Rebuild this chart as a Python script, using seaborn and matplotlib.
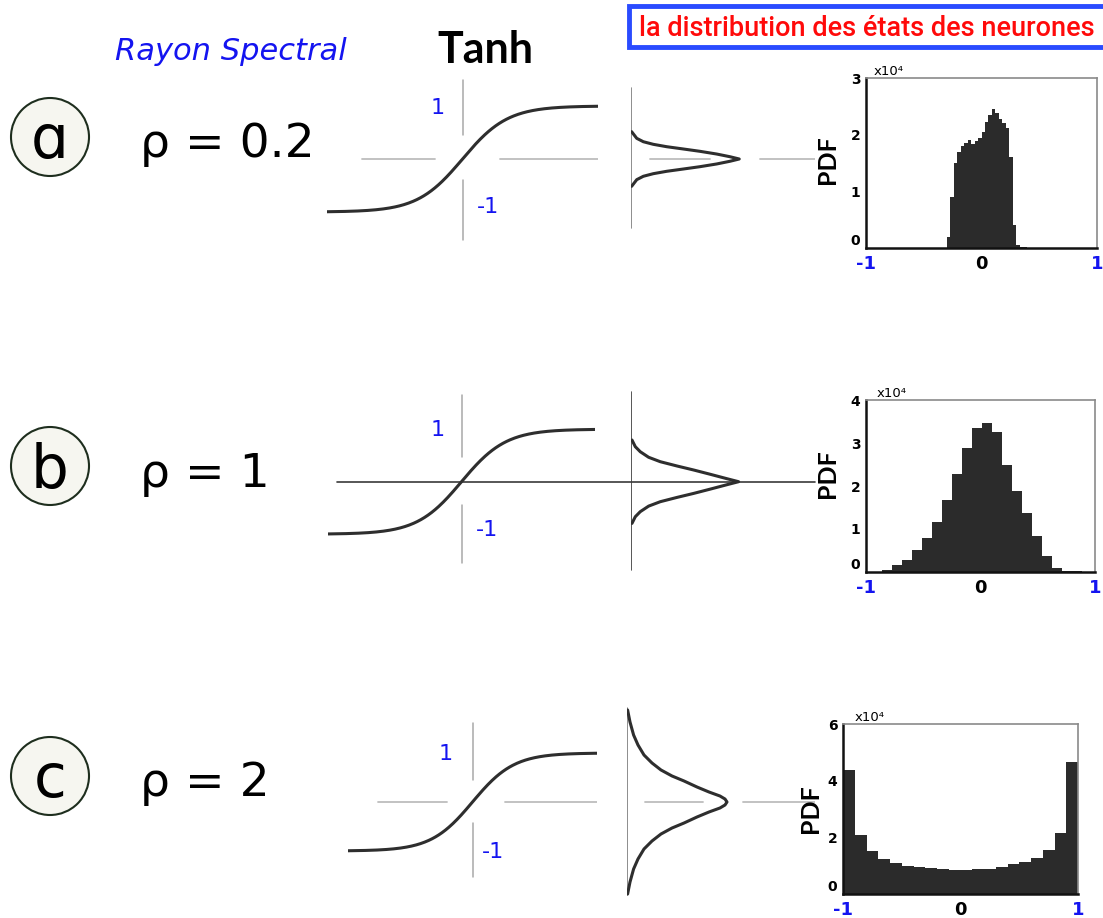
import numpy as np
import pandas as pd
import matplotlib
matplotlib.use('Agg')
import matplotlib.pyplot as plt
import matplotlib.transforms as mtransforms
import seaborn as sns
from matplotlib.patches import Circle, Rectangle

W, H = 1103, 918

# ---- data ----
row_letters = ['ɑ', 'b', 'c']
rho_labels = ['ρ = 0.2', 'ρ = 1', 'ρ = 2']

# tanh input range shown in each panel
tanh_u = np.linspace(-3, 3, 300)

# half profiles of the input distributions (state offset, density rel. to peak)
bell_a_state = [0.515, 0.39, 0.326, 0.277, 0.232, 0.189, 0.145, 0.094, 0.043, 0.0]
bell_a_dens = [0.006, 0.053, 0.114, 0.206, 0.33, 0.483, 0.637, 0.791, 0.914, 1.0]
bell_b_state = [0.794, 0.667, 0.571, 0.465, 0.381, 0.299, 0.223, 0.141, 0.057, 0.0]
bell_b_dens = [0.009, 0.04, 0.086, 0.164, 0.272, 0.428, 0.582, 0.737, 0.892, 1.0]
bell_c_state = [1.878, 1.633, 1.367, 1.163, 0.959, 0.796, 0.653, 0.531, 0.429,
                0.306, 0.204, 0.122, 0.061, 0.0]
bell_c_dens = [0.006, 0.03, 0.066, 0.11, 0.17, 0.25, 0.34, 0.45, 0.57,
               0.70, 0.82, 0.93, 0.98, 1.0]

# histograms of neuron states (x1e4)
hist_a_edges = np.linspace(-0.30, 0.39, 24)
hist_a_heights = [0.2, 0.9, 1.5, 1.7, 1.8, 1.85, 1.9, 1.83, 1.88, 1.95, 2.05, 2.22,
                  2.35, 2.45, 2.38, 2.28, 2.2, 2.12, 1.6, 0.4, 0.05, 0.02, 0.01]
hist_b_edges = np.linspace(-0.9476, 0.9708, 23)
hist_b_heights = [0.01, 0.05, 0.155, 0.27, 0.52, 0.8, 1.17, 1.67, 2.27, 2.89, 3.36,
                  3.46, 3.26, 2.49, 1.88, 1.38, 0.83, 0.37, 0.09, 0.03, 0.02, 0.01]
hist_c_edges = np.linspace(-1, 1, 21)
hist_c_heights = [4.38, 2.07, 1.5, 1.23, 1.09, 1.0, 0.95, 0.9, 0.87, 0.86,
                  0.86, 0.87, 0.9, 0.95, 1.05, 1.12, 1.27, 1.54, 2.15, 4.67]
hist_ymax = [3, 4, 6]
hist_yticks = [[0, 1, 2, 3], [0, 1, 2, 3, 4], [0, 2, 4, 6]]

# ---- style ----
sns.set_style('white')
plt.rcParams['font.family'] = ['DejaVu Sans']

BLUE = '#1414f0'
CURVE = '#2e2e2e'
GUIDE = '#bdbdbd'

fig = plt.figure(figsize=(W / 100, H / 100), dpi=100)

bg = fig.add_axes([0, 0, 1, 1])
bg.set_xlim(0, W)
bg.set_ylim(H, 0)
bg.axis('off')


def box(l, t, r, b):
    return [l / W, 1 - b / H, (r - l) / W, (b - t) / H]


# headers
bg.text(231, 52, 'Rayon Spectral', color=BLUE, fontsize=22, style='italic',
        ha='center', va='center')
bg.text(485, 50, 'Tanh', color='black', fontsize=31, family=['Lato', 'DejaVu Sans'],
        fontweight='bold', ha='center', va='center')
bg.add_patch(Rectangle((629, 6), 480, 41, facecolor='white', edgecolor='#2a4bff', lw=3.5))
bg.text(867, 28, 'la distribution des états des neurones', color='#ff0a0a',
        fontsize=19.5, family=['Roboto', 'DejaVu Sans'], fontweight='medium',
        ha='center', va='center')

# row letters and rho labels
circle_y = [137, 466, 776]
base_y = [158, 488, 797]
for letter, rho, cyc, by in zip(row_letters, rho_labels, circle_y, base_y):
    bg.add_patch(Circle((50, cyc), 39, facecolor='#f6f6f0', edgecolor='#1e2e1e', lw=1.5))
    bg.text(50, by, letter, fontsize=43, ha='center', va='baseline', color='black')
    bg.text(140, by - 1, rho, fontsize=34, ha='left', va='baseline', color='black')

# ---- tanh panels ----
tanh_boxes = [box(327, 53, 598, 265), box(328, 376.7, 595, 586.7), box(348, 704, 597, 900)]
h_guides = [[(-2.22, -0.61), (0.83, 3.0)], None, [(-2.28, -0.61), (0.78, 3.0)]]
v_guides = [[(0.45, 1.49), (-1.53, -0.40)], [(0.48, 1.65), (-1.55, -0.44)],
            [(0.45, 1.61), (-1.53, -0.43)]]
one_pos = [(-0.56, 0.96), (-0.53, 0.98), (-0.64, 0.98)]
minus_pos = [(0.56, -0.91), (0.57, -0.92), (0.50, -1.02)]

for i, rect in enumerate(tanh_boxes):
    ax = fig.add_axes(rect)
    ax.set_xlim(-3, 3)
    ax.set_ylim(-2, 2)
    ax.axis('off')
    if h_guides[i] is None:
        ax.plot([-2.8, 7.95], [0, 0], color='#3a3a3a', lw=1.2, clip_on=False)
    else:
        for x0, x1 in h_guides[i]:
            ax.plot([x0, x1], [0, 0], color=GUIDE, lw=1.3)
    for y0, y1 in v_guides[i]:
        ax.plot([0, 0], [y0, y1], color='#a8a8a8', lw=1.1)
    sns.lineplot(x=tanh_u, y=np.tanh(tanh_u), ax=ax, color=CURVE, lw=2.2)
    ax.text(*one_pos[i], '1', color=BLUE, fontsize=16, ha='center', va='center')
    ax.text(*minus_pos[i], '-1', color=BLUE, fontsize=16, ha='center', va='center')

# ---- input distribution panels ----
dist_boxes = [box(631, 53, 815, 265), box(631, 376.7, 815, 586.7), box(627, 704, 815, 900)]
dist_xmax = [1.70, 1.71, 1.88]
bells = [(bell_a_state, bell_a_dens), (bell_b_state, bell_b_dens), (bell_c_state, bell_c_dens)]
dist_vline = [(-1.30, 1.34), (-1.68, 1.71), (-1.90, 1.92)]
dist_guides = [[(0.175, 0.73), (1.19, 1.70)], None, [(0.18, 0.76), (1.16, 1.88)]]

for i, rect in enumerate(dist_boxes):
    ax = fig.add_axes(rect)
    ax.set_xlim(0, dist_xmax[i])
    ax.set_ylim(-2, 2)
    ax.axis('off')
    if dist_guides[i] is not None:
        for x0, x1 in dist_guides[i]:
            ax.plot([x0, x1], [0, 0], color=GUIDE, lw=1.3)
    ax.plot([0, 0], dist_vline[i], color='#7a7a7a' if i != 1 else '#3a3a3a', lw=1.2)
    st, de = bells[i]
    ys = list(st) + [-s for s in reversed(st)]
    xs = list(de) + list(reversed(de))
    ax.plot(xs, ys, color=CURVE, lw=2.2, solid_joinstyle='round')

# ---- state histograms ----
hist_boxes = [box(866, 78, 1097, 248), box(866, 400, 1095, 572), box(843, 724, 1078, 894)]
hists = [(hist_a_edges, hist_a_heights), (hist_b_edges, hist_b_heights),
         (hist_c_edges, hist_c_heights)]
pdf_pos = [(-0.165, 0.52), (-0.166, 0.57), (-0.14, 0.5)]
x10_pos = [0.035, 0.045, 0.05]

for i, rect in enumerate(hist_boxes):
    ax = fig.add_axes(rect)
    edges, heights = hists[i]
    edges = np.asarray(edges)
    df = pd.DataFrame({'state': (edges[:-1] + edges[1:]) / 2, 'count': heights})
    sns.histplot(data=df, x='state', weights='count', bins=edges.tolist(), element='step',
                 fill=True, color='#2b2b2b', alpha=1, linewidth=0, ax=ax)
    ax.set_xlim(-1, 1)
    ax.set_ylim(0, hist_ymax[i])
    ax.set_xlabel('')
    ax.set_ylabel('')
    ax.set_yticks(hist_yticks[i])
    ax.set_yticklabels([str(t) for t in hist_yticks[i]], fontsize=10, fontweight='bold',
                       color='black')
    ax.get_yticklabels()[0].set_verticalalignment('bottom')
    ax.set_xticks([-1, 0, 1])
    ax.set_xticklabels(['-1', '0', '1'], fontsize=13, fontweight='bold')
    for lbl, col, dx in zip(ax.get_xticklabels(), [BLUE, 'black', BLUE], [-8, 4, -2]):
        lbl.set_color(col)
        lbl.set_transform(lbl.get_transform() +
                          mtransforms.ScaledTranslation(dx / 100, 0, fig.dpi_scale_trans))
    ax.tick_params(axis='x', length=0, pad=5)
    ax.tick_params(axis='y', length=0, pad=4)
    for side in ['left', 'bottom']:
        ax.spines[side].set_color('#111111')
        ax.spines[side].set_linewidth(1.8)
    for side in ['top', 'right']:
        ax.spines[side].set_color('#8a8a8a')
        ax.spines[side].set_linewidth(1.2)
    ax.text(x10_pos[i], 1.0, 'x10⁴', transform=ax.transAxes, fontsize=9.5,
            ha='left', va='bottom', color='black')
    ax.text(*pdf_pos[i], 'PDF', transform=ax.transAxes, fontsize=18, rotation=90,
            family=['Lato', 'DejaVu Sans'], fontweight='bold',
            ha='center', va='center', color='black')

fig.savefig('out.png', dpi=100)
